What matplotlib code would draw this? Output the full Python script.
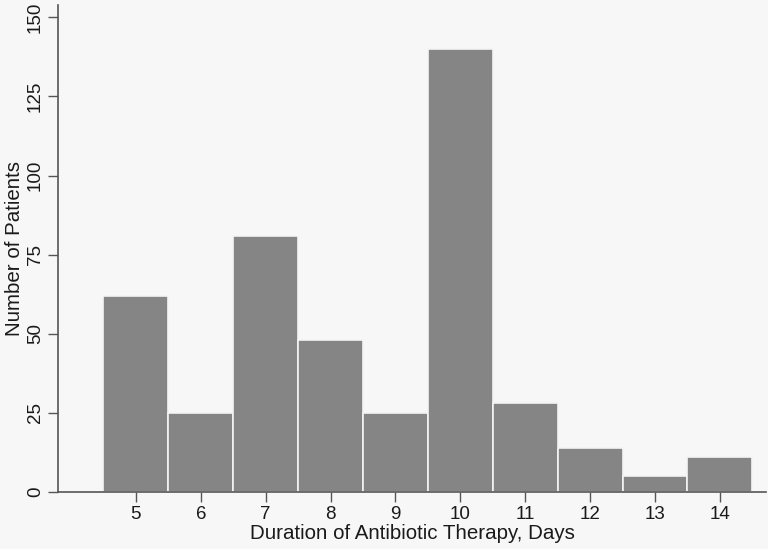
import matplotlib.pyplot as plt

days = [5, 6, 7, 8, 9, 10, 11, 12, 13, 14]
patients = [62, 25, 81, 48, 25, 140, 28, 14, 5, 11]
yticks = [0, 25, 50, 75, 100, 125, 150]

plt.rcParams['font.family'] = ['Liberation Sans', 'DejaVu Sans']

fig = plt.figure(figsize=(7.68, 5.49), dpi=100)
fig.patch.set_facecolor('#f7f7f7')
ax = fig.add_axes([58 / 768, 1 - 492 / 549, (766 - 58) / 768, (492 - 5) / 549])
ax.set_facecolor('#f7f7f7')

ax.bar(days, patients, width=1.0, color='#858585', edgecolor='#f4f4f4', linewidth=1.2)

ax.set_xlim(3.8, 14.71)
ax.set_ylim(0, 153.9)
ax.set_xticks(days)
ax.set_yticks(yticks)
ax.set_yticklabels([str(v) for v in yticks], rotation=90, va='center')

for s in ['top', 'right']:
    ax.spines[s].set_visible(False)
for s in ['left', 'bottom']:
    ax.spines[s].set_color('#555555')
    ax.spines[s].set_linewidth(1.2)

ax.tick_params(axis='both', length=7, width=1.0, color='#555555',
               labelsize=13.5, labelcolor='#1a1a1a', pad=3)

ax.set_xlabel('Duration of Antibiotic Therapy, Days', fontsize=14.8, color='#1a1a1a', labelpad=1)
ax.set_ylabel('Number of Patients', fontsize=14.8, color='#1a1a1a', labelpad=2)

fig.savefig('out.png', dpi=100, facecolor=fig.get_facecolor())
